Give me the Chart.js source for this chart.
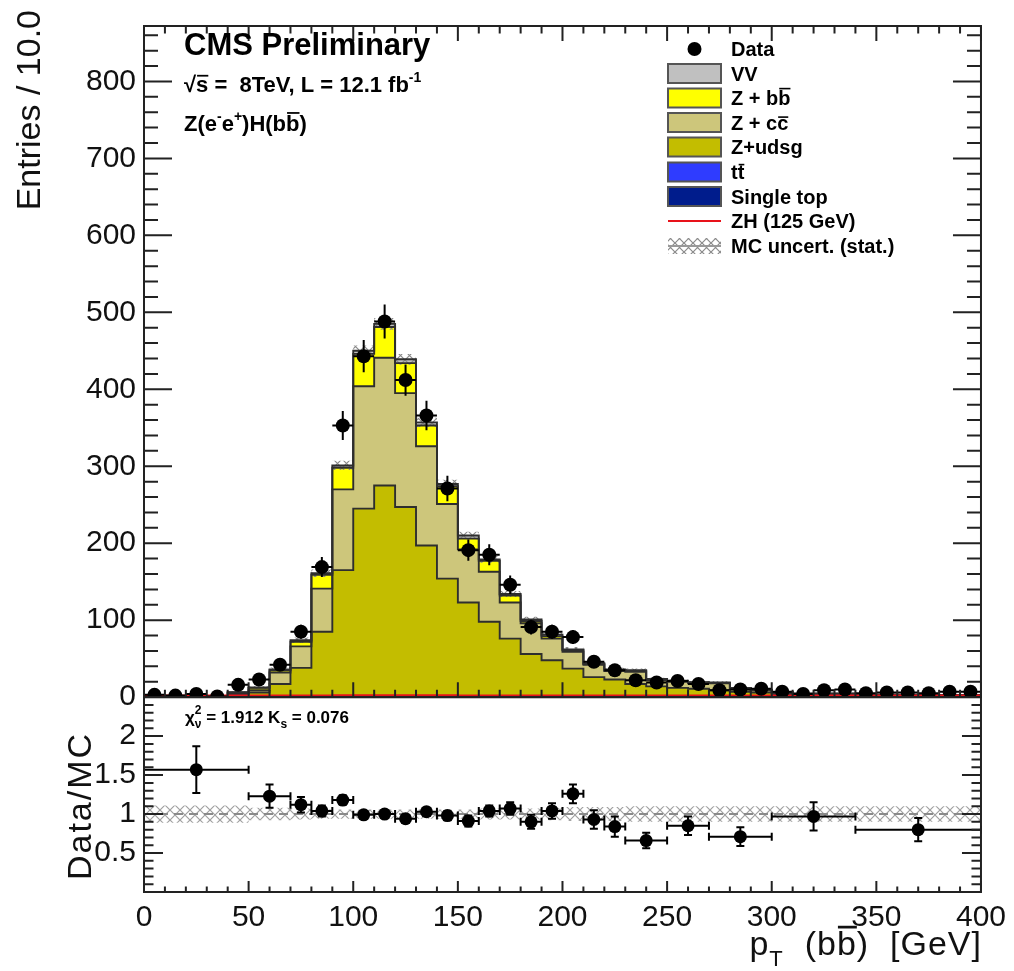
<!DOCTYPE html>
<html>
<head>
<meta charset="utf-8">
<script src="https://cdn.jsdelivr.net/npm/chart.js@4.4.1/dist/chart.umd.min.js"></script>
<style>
  html, body { margin: 0; padding: 0; background: #fff; }
  #wrap { width: 1014px; height: 971px; }
</style>
</head>
<body>
<div id="wrap"><canvas id="c" width="1014" height="971"></canvas></div>
<script>
const FONT = "'Liberation Sans', Arial, Helvetica, sans-serif";
Chart.defaults.font.family = FONT;
Chart.defaults.color = '#111';

// --- histogram bins (pT(bb) in GeV, lower edges, 10 GeV wide)
const binWidth = 10;
const binLow = [0,10,20,30,40,50,60,70,80,90,100,110,120,130,140,150,160,170,180,190,
                200,210,220,230,240,250,260,270,280,290,300,310,320,330,340,350,360,370,380,390];

// --- MC backgrounds (entries per bin)
const zudsg = [0.5,0.5,0.8,0.6,3,6,17,38,85,165,245,275,247,197,154,123,98,76,56,48,
               37,26,23,17,14,12,11,9,7,6,4,3,3,3,2,2,2,2,1.5,1.5];
const zcc   = [0.3,0.3,0.5,0.4,2,3,15,28,56,105,159,166,148,129,97,69,65,47,40,28,
               22,16,11,16,8,8,7,9,4,3,2,1.2,1.2,1.2,1,1,0.8,0.8,1,1];
const zbb   = [0.2,0.2,0.2,0.2,1,3,3,6,18,28,42,40,39,27,23,14,14,9,3,3,
               2,1,1,1,1,1,1,0.5,0.5,0.5,0.5,0.3,0.3,0.3,0.3,0.2,0.2,0.2,0.3,0.3];
const vv    = [0,0,0,0,0.3,0.5,1,2,2,3,4,4,5,4,3,4,2,2,2,2,
               1,1,1,1,0.5,0.5,0.5,0.5,0.3,0.3,0.2,0.2,0.2,0.2,0.1,0.1,0.1,0.1,0.1,0.1];
const zh    = [2.2,2.2,2.2,2.2,2.2,2.2,2.2,2.3,2.3,2.4,2.5,2.5,2.5,2.4,2.4,2.3,2.3,2.2,2.2,2.2,
               2.2,2.2,2.2,2.2,2.2,2.2,2.2,2.2,2.2,2.2,2.2,2.2,2.2,2.2,2.2,2.2,2.2,2.2,2.2,2.2];
const mcErr = [0.4,0.4,0.5,0.4,1,1.5,2.5,3.5,5,6,7,7.5,7,6,5.5,5,4.5,4,3.5,3,
               3,2.5,2.2,2.2,1.8,1.7,1.6,1.6,1.2,1.1,0.9,0.8,0.8,0.8,0.7,0.7,0.6,0.6,0.6,0.6];

// --- data
const dataCounts = [3,2,4,1,16,23,42,85,169,353,443,488,412,366,271,191,185,146,91,85,
                    78,46,35,22,19,21,17,9,10,11,7,4,9,10,5,6,6,5,7,7];
const dataErr = [1.7,1.4,2,1,4,4.8,6.5,9.2,13,18.8,21,22,20.3,19.1,16.5,13.8,13.6,12.1,9.5,9.2,
                 8.8,6.8,5.9,4.7,4.4,4.6,4.1,3,3.2,3.3,2.6,2,3,3.2,2.2,2.4,2.4,2.2,2.6,2.6];

// --- ratio panel (variable bins)
const ratioLow  = [0,50,70,80,90,100,110,120,130,140,150,160,170,180,190,200,210,220,230,250,270,300,340];
const ratioHigh = [50,70,80,90,100,110,120,130,140,150,160,170,180,190,200,210,220,230,250,270,300,340,400];
const ratioVal  = [1.57,1.23,1.12,1.04,1.18,0.99,1.00,0.94,1.03,0.98,0.91,1.04,1.07,0.90,1.04,1.26,0.93,0.84,0.66,0.85,0.71,0.97,0.80];
const ratioErr  = [0.30,0.15,0.10,0.07,0.06,0.05,0.05,0.05,0.05,0.06,0.07,0.07,0.08,0.09,0.10,0.12,0.12,0.13,0.10,0.12,0.12,0.18,0.15];
const ratioBand = [0.11,0.08,0.07,0.06,0.06,0.06,0.06,0.06,0.06,0.06,0.06,0.07,0.07,0.07,0.08,0.09,0.09,0.09,0.1,0.1,0.1,0.1,0.1];

// --- axes / ticks
const xMin = 0, xMax = 400;
const yMax = 872;
const ratioMin = 0, ratioMax = 2.5;
const xTickStep = 50, yTickStep = 100, ratioTickStep = 0.5;

const colors = {
  vv: '#c0c0c0', zbb: '#ffff00', zcc: '#cdc67b', zudsg: '#c3bd00',
  tt: '#2f3cff', stop: '#001c8c', zh: '#e8121a', line: '#2e2e2e'
};

const canvas = document.getElementById('c');
const ctx0 = canvas.getContext('2d');

function makeHatch(ctx, color, size) {
  const c = document.createElement('canvas');
  c.width = size; c.height = size;
  const g = c.getContext('2d');
  g.strokeStyle = color; g.lineWidth = 1.2;
  g.beginPath();
  g.moveTo(-1, -1); g.lineTo(size + 1, size + 1);
  g.moveTo(size + 1, -1); g.lineTo(-1, size + 1);
  g.stroke();
  return ctx.createPattern(c, 'repeat');
}
const hatch = makeHatch(ctx0, '#8a8a8a', 9);
const ratioHatch = makeHatch(ctx0, '#a0a0a0', 10);

function stackSum(...arrs) {
  return binLow.map((_, i) => arrs.reduce((s, a) => s + a[i], 0));
}
const top1 = stackSum(zudsg);
const top2 = stackSum(zudsg, zcc);
const top3 = stackSum(zudsg, zcc, zbb);
const top4 = stackSum(zudsg, zcc, zbb, vv);

function steps(vals) {
  const pts = binLow.map((x, i) => ({ x, y: vals[i] }));
  pts.push({ x: binLow[binLow.length - 1] + binWidth, y: vals[vals.length - 1] });
  return pts;
}
function rsteps(vals) {
  const pts = ratioLow.map((x, i) => ({ x, y: vals[i] }));
  pts.push({ x: ratioHigh[ratioHigh.length - 1], y: vals[vals.length - 1] });
  return pts;
}

const hist = (color, fill, order) => ({
  type: 'line', stepped: true, pointRadius: 0, borderColor: colors.line,
  borderWidth: 1.9, backgroundColor: color, fill, order, yAxisID: 'y'
});
const bandLine = (axis, order) => ({
  type: 'line', stepped: true, pointRadius: 0, borderColor: 'rgba(0,0,0,0)',
  borderWidth: 1, yAxisID: axis, order
});

// --- rich text helper (super/subscripts and overbars)
function rich(ctx, x, y, parts, size, bold, measureOnly) {
  for (const p of parts) {
    const s = p.s || size;
    ctx.font = (bold ? 'bold ' : '') + s + 'px ' + FONT;
    const w = ctx.measureText(p.t).width;
    if (!measureOnly) {
      ctx.fillText(p.t, x, y + (p.dy || 0));
      if (p.bar) {
        const h = p.barH || 0.86;
        ctx.fillRect(x + 1, y + (p.dy || 0) - s * h, w - 1, Math.max(1.6, s * 0.08));
      }
    }
    x += (p.adv === undefined) ? w : p.adv;
  }
  return x;
}

const decor = {
  id: 'decor',
  beforeDraw(chart) {
    const c = chart.ctx;
    c.save(); c.fillStyle = '#fff'; c.fillRect(0, 0, chart.width, chart.height); c.restore();
  },
  afterDatasetsDraw(chart) {
    const { ctx, scales: { x, y, yr } } = chart;
    ctx.save();
    ctx.strokeStyle = '#000'; ctx.lineWidth = 2;
    // data error bars
    ctx.beginPath();
    ctx.rect(x.left, y.top, x.right - x.left, y.bottom - y.top);
    ctx.clip();
    ctx.beginPath();
    binLow.forEach((lo, i) => {
      const px = x.getPixelForValue(lo + binWidth / 2);
      const py = y.getPixelForValue(dataCounts[i]);
      ctx.moveTo(px, y.getPixelForValue(dataCounts[i] + dataErr[i]));
      ctx.lineTo(px, y.getPixelForValue(Math.max(0, dataCounts[i] - dataErr[i])));
      ctx.moveTo(x.getPixelForValue(lo), py);
      ctx.lineTo(x.getPixelForValue(lo + binWidth), py);
    });
    ctx.stroke();
    ctx.restore();
    // ratio error bars
    ctx.save();
    ctx.strokeStyle = '#000'; ctx.lineWidth = 2;
    ctx.beginPath();
    ratioVal.forEach((v, i) => {
      const px = x.getPixelForValue((ratioLow[i] + ratioHigh[i]) / 2);
      const py = yr.getPixelForValue(v);
      const t = yr.getPixelForValue(v + ratioErr[i]);
      const b = yr.getPixelForValue(v - ratioErr[i]);
      const l = x.getPixelForValue(ratioLow[i]);
      const r = x.getPixelForValue(ratioHigh[i]);
      ctx.moveTo(px, t); ctx.lineTo(px, b);
      ctx.moveTo(px - 4, t); ctx.lineTo(px + 4, t);
      ctx.moveTo(px - 4, b); ctx.lineTo(px + 4, b);
      ctx.moveTo(l, py); ctx.lineTo(r, py);
      ctx.moveTo(l, py - 4); ctx.lineTo(l, py + 4);
      ctx.moveTo(r, py - 4); ctx.lineTo(r, py + 4);
    });
    ctx.stroke();
    ctx.restore();
  },
  afterDraw(chart) {
    const { ctx, scales: { x, y, yr } } = chart;
    const L = x.left, R = x.right, T = y.top, M = y.bottom, B = yr.bottom;
    ctx.save();
    // frames
    ctx.strokeStyle = '#222'; ctx.lineWidth = 2;
    ctx.strokeRect(L, T, R - L, M - T);
    ctx.strokeRect(L, M, R - L, B - M);
    // ticks
    ctx.beginPath();
    for (let v = xMin; v <= xMax; v += 10) {
      const px = x.getPixelForValue(v);
      const maj = v % xTickStep === 0;
      const a = maj ? 15 : 7.5, b = maj ? 11 : 5.5;
      ctx.moveTo(px, T); ctx.lineTo(px, T + a);
      ctx.moveTo(px, M); ctx.lineTo(px, M - a);
      ctx.moveTo(px, B); ctx.lineTo(px, B - b);
    }
    for (let v = 20; v < yMax; v += 20) {
      const py = y.getPixelForValue(v);
      const a = v % yTickStep === 0 ? 28 : 14;
      ctx.moveTo(L, py); ctx.lineTo(L + a, py);
      ctx.moveTo(R, py); ctx.lineTo(R - a, py);
    }
    for (let k = 1; k < 25; k++) {
      const v = k / 10;
      const py = yr.getPixelForValue(v);
      const a = k % 5 === 0 ? 19 : 9.5;
      ctx.moveTo(L, py); ctx.lineTo(L + a, py);
      ctx.moveTo(R, py); ctx.lineTo(R - a, py);
    }
    ctx.stroke();

    // header text
    ctx.fillStyle = '#000';
    ctx.textBaseline = 'alphabetic';
    ctx.textAlign = 'left';
    ctx.font = 'bold 31px ' + FONT;
    ctx.fillText('CMS Preliminary', 184, 55);
    rich(ctx, 184, 92, [{ t: '\u221A' }, { t: 's', bar: true, barH: 0.78 }, { t: ' =  8TeV, L = 12.1 fb' },
      { t: '-1', s: 14, dy: -10 }], 22, true);
    rich(ctx, 184, 131, [{ t: 'Z(e' }, { t: '-', s: 14, dy: -10 }, { t: 'e' }, { t: '+', s: 14, dy: -10 },
      { t: ')H(b' }, { t: 'b', bar: true }, { t: ')' }], 22, true);

    // legend
    const rows = [49, 73.5, 98, 122.5, 147, 172, 196.5, 221, 246];
    const bx = 668, bw = 53, bh = 19, tx = 731;
    const boxes = [null, colors.vv, colors.zbb, colors.zcc, colors.zudsg, colors.tt, colors.stop];
    ctx.lineWidth = 2; ctx.strokeStyle = '#555';
    boxes.forEach((col, i) => {
      if (!col) return;
      ctx.fillStyle = col;
      ctx.fillRect(bx, rows[i] - bh / 2, bw, bh);
      ctx.strokeRect(bx, rows[i] - bh / 2, bw, bh);
    });
    ctx.fillStyle = '#000';
    ctx.beginPath(); ctx.arc(bx + bw / 2, rows[0], 7, 0, Math.PI * 2); ctx.fill();
    ctx.strokeStyle = colors.zh; ctx.lineWidth = 2;
    ctx.beginPath(); ctx.moveTo(bx, rows[7]); ctx.lineTo(bx + bw, rows[7]); ctx.stroke();
    ctx.fillStyle = hatch; ctx.fillRect(bx, rows[8] - 8, bw, 16);
    ctx.strokeStyle = '#999'; ctx.lineWidth = 2;
    ctx.beginPath(); ctx.moveTo(bx, rows[8]); ctx.lineTo(bx + bw, rows[8]); ctx.stroke();
    ctx.fillStyle = '#000';
    const labels = [
      [{ t: 'Data' }], [{ t: 'VV' }],
      [{ t: 'Z + b' }, { t: 'b', bar: true }],
      [{ t: 'Z + c' }, { t: 'c', bar: true, barH: 0.66 }],
      [{ t: 'Z+udsg' }],
      [{ t: 't' }, { t: 't', bar: true, barH: 0.76 }],
      [{ t: 'Single top' }], [{ t: 'ZH (125 GeV)' }], [{ t: 'MC uncert. (stat.)' }]
    ];
    labels.forEach((parts, i) => rich(ctx, tx, rows[i] + 7, parts, 20, true));

    // chi2 text in ratio panel
    rich(ctx, 185, 723, [{ t: '\u03C7' }, { t: '2', s: 12, dy: -9, adv: 0 }, { t: '\u03BD', s: 12, dy: 5 },
      { t: ' = 1.912 K' }, { t: 's', s: 12, dy: 5 }, { t: ' = 0.076' }], 17, true);

    // axis titles
    ctx.fillStyle = '#111';
    ctx.save();
    ctx.translate(31, 10); ctx.rotate(-Math.PI / 2);
    ctx.textAlign = 'right'; ctx.textBaseline = 'middle';
    ctx.font = '34px ' + FONT;
    ctx.fillText('Entries / 10.0', 0, 0);
    ctx.restore();
    ctx.save();
    ctx.translate(82, 806); ctx.rotate(-Math.PI / 2);
    ctx.textAlign = 'center'; ctx.textBaseline = 'middle';
    ctx.font = '34px ' + FONT;
    ctx.letterSpacing = '2px';
    ctx.fillText('Data/MC', 0, 0);
    ctx.restore();
    ctx.save();
    ctx.letterSpacing = '1px';
    const xt = [{ t: 'p' }, { t: 'T', s: 22, dy: 11 }, { t: '  (b' }, { t: 'b', bar: true }, { t: ')  [GeV]' }];
    const w = rich(ctx, 0, 0, xt, 34, false, true);
    rich(ctx, R + 1 - w, 955, xt, 34, false);
    ctx.restore();
    ctx.restore();
  }
};

new Chart(canvas, {
  type: 'line',
  data: {
    datasets: [
      { label: 'Z+udsg', data: steps(top1), ...hist(colors.zudsg, 'origin', 10) },
      { label: 'Z + cc', data: steps(top2), ...hist(colors.zcc, 0, 9) },
      { label: 'Z + bb', data: steps(top3), ...hist(colors.zbb, 1, 8) },
      { label: 'VV', data: steps(top4), ...hist(colors.vv, 2, 7) },
      { label: 'ZH (125 GeV)', type: 'line', stepped: true, data: steps(zh), pointRadius: 0,
        borderColor: colors.zh, borderWidth: 2, fill: false, order: 5, yAxisID: 'y', clip: false },
      { label: 'MC lo', data: steps(top4.map((v, i) => v - mcErr[i])), ...bandLine('y', 4), fill: false },
      { label: 'MC uncert. (stat.)', data: steps(top4.map((v, i) => v + mcErr[i])), ...bandLine('y', 4),
        fill: 5, backgroundColor: hatch },
      { label: 'Data', type: 'scatter', yAxisID: 'y', order: 0,
        data: binLow.map((lo, i) => ({ x: lo + binWidth / 2, y: dataCounts[i] })),
        pointRadius: 7, pointBackgroundColor: '#000', pointBorderWidth: 0 },
      { label: 'ratio lo', data: rsteps(ratioBand.map(b => 1 - b)), ...bandLine('yr', 4), fill: false },
      { label: 'ratio band', data: rsteps(ratioBand.map(b => 1 + b)), ...bandLine('yr', 4),
        fill: 8, backgroundColor: ratioHatch },
      { label: 'unity', type: 'line', yAxisID: 'yr', order: 3, data: [{ x: xMin, y: 1 }, { x: xMax, y: 1 }],
        borderColor: '#8a8a8a', borderDash: [9, 6], borderWidth: 2, pointRadius: 0, fill: false },
      { label: 'Data/MC', type: 'scatter', yAxisID: 'yr', order: 0,
        data: ratioVal.map((v, i) => ({ x: (ratioLow[i] + ratioHigh[i]) / 2, y: v })),
        pointRadius: 6.5, pointBackgroundColor: '#000', pointBorderWidth: 0 }
    ]
  },
  options: {
    responsive: false,
    animation: false,
    events: [],
    layout: { padding: { top: 12, right: 30, left: 0, bottom: 0 } },
    plugins: {
      legend: { display: false },
      tooltip: { enabled: false },
      filler: { drawTime: 'beforeDatasetsDraw' }
    },
    scales: {
      x: {
        type: 'linear', min: xMin, max: xMax, position: 'bottom',
        grid: { display: false, drawTicks: false }, border: { display: false },
        ticks: { stepSize: xTickStep, padding: 8, maxRotation: 0, autoSkip: false,
                 font: { size: 30 }, color: '#111' },
        afterFit: s => { s.height = 79; }
      },
      yr: {
        type: 'linear', min: ratioMin, max: ratioMax, position: 'left', stack: 'v', stackWeight: 198,
        grid: { display: false, drawTicks: false }, border: { display: false },
        ticks: { stepSize: ratioTickStep, autoSkip: false, padding: 8, font: { size: 30 }, color: '#111',
                 callback: v => (v <= ratioMin || v >= ratioMax) ? '' : String(v) },
        afterFit: s => { s.width = 144; }
      },
      y: {
        type: 'linear', min: 0, max: yMax, position: 'left', stack: 'v', stackWeight: 682,
        grid: { display: false, drawTicks: false }, border: { display: false },
        ticks: { stepSize: yTickStep, includeBounds: false, padding: 8, font: { size: 30 }, color: '#111' },
        afterFit: s => { s.width = 144; }
      }
    }
  },
  plugins: [decor]
});
</script>
</body>
</html>
